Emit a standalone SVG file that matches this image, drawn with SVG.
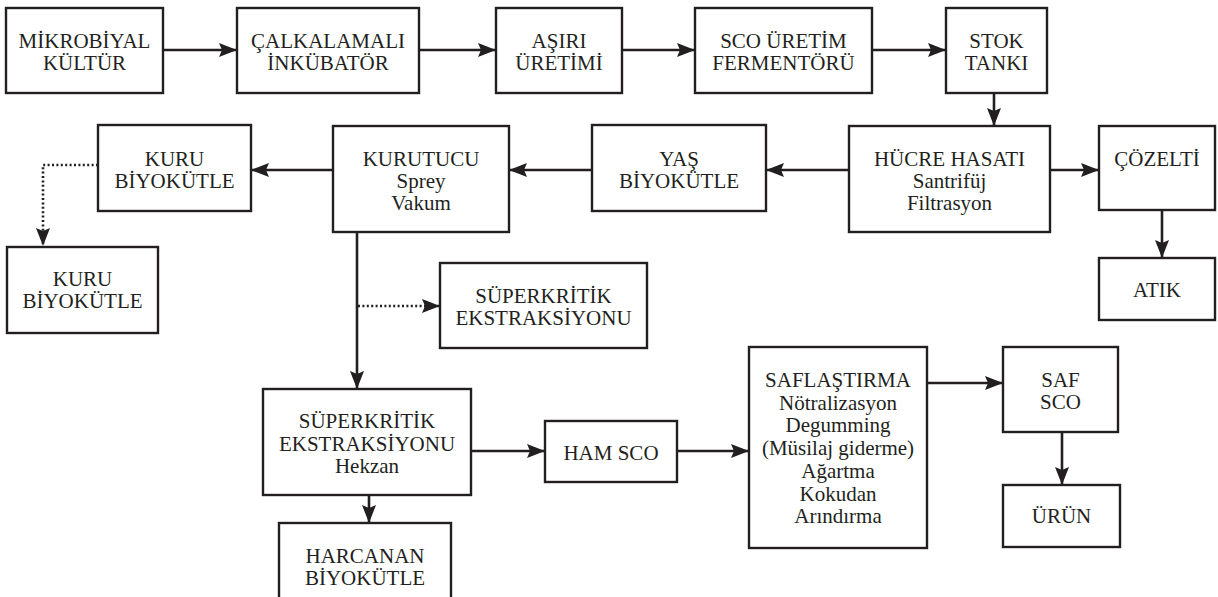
<svg xmlns="http://www.w3.org/2000/svg" width="1218" height="597" viewBox="0 0 1218 597">
<style>
.box{fill:#ffffff;stroke:#231f20;stroke-width:2.4}
.t{font-family:"Liberation Serif","Times New Roman",Times,serif;font-size:21px;fill:#231f20;text-anchor:middle}
.ln{fill:none;stroke:#231f20;stroke-width:2.6}
.dot{fill:none;stroke:#231f20;stroke-width:2.6;stroke-dasharray:2 2.4}
</style>
<defs>
<marker id="ah" markerUnits="userSpaceOnUse" markerWidth="19" markerHeight="15" refX="18" refY="7" orient="auto">
<path d="M0,0 L18,7 L0,14 L3,7 z" fill="#231f20"/>
</marker>
</defs>
<rect width="1218" height="597" fill="#ffffff"/>
<g id="connectors">
<line class="ln" x1="163" y1="50" x2="237" y2="50" marker-end="url(#ah)"/>
<line class="ln" x1="419" y1="50" x2="496" y2="50" marker-end="url(#ah)"/>
<line class="ln" x1="622" y1="50" x2="695" y2="50" marker-end="url(#ah)"/>
<line class="ln" x1="872" y1="50" x2="946" y2="50" marker-end="url(#ah)"/>
<line class="ln" x1="994" y1="93" x2="994" y2="126" marker-end="url(#ah)"/>
<line class="ln" x1="849" y1="170" x2="766" y2="170" marker-end="url(#ah)"/>
<line class="ln" x1="592" y1="170" x2="509" y2="170" marker-end="url(#ah)"/>
<line class="ln" x1="333" y1="170" x2="251" y2="170" marker-end="url(#ah)"/>
<line class="ln" x1="1050" y1="170" x2="1099" y2="170" marker-end="url(#ah)"/>
<line class="ln" x1="1162" y1="210" x2="1162" y2="258" marker-end="url(#ah)"/>
<polyline class="dot" points="98,165 43,165 43,246" marker-end="url(#ah)"/>
<line class="ln" x1="357" y1="232" x2="357" y2="389" marker-end="url(#ah)"/>
<line class="dot" x1="358" y1="306" x2="440" y2="306" marker-end="url(#ah)"/>
<line class="ln" x1="471" y1="451" x2="545" y2="451" marker-end="url(#ah)"/>
<line class="ln" x1="369" y1="495" x2="369" y2="523" marker-end="url(#ah)"/>
<line class="ln" x1="677" y1="451" x2="749" y2="451" marker-end="url(#ah)"/>
<line class="ln" x1="927" y1="383" x2="1003" y2="383" marker-end="url(#ah)"/>
<line class="ln" x1="1062" y1="432" x2="1062" y2="485" marker-end="url(#ah)"/>
</g>
<g id="mikrobiyal"><rect class="box" x="6" y="8" width="157" height="85"/><text class="t" x="84.5" y="48">MİKROBİYAL</text><text class="t" x="84.5" y="70">KÜLTÜR</text></g>
<g id="calkalamali"><rect class="box" x="237" y="8" width="182" height="85"/><text class="t" x="328" y="48">ÇALKALAMALI</text><text class="t" x="328" y="70">İNKÜBATÖR</text></g>
<g id="asiri"><rect class="box" x="496" y="8" width="126" height="85"/><text class="t" x="559" y="48">AŞIRI</text><text class="t" x="559" y="70">ÜRETİMİ</text></g>
<g id="sco-uretim"><rect class="box" x="695" y="8" width="177" height="85"/><text class="t" x="783.5" y="48">SCO ÜRETİM</text><text class="t" x="783.5" y="70">FERMENTÖRÜ</text></g>
<g id="stok"><rect class="box" x="946" y="8" width="101" height="85"/><text class="t" x="996.5" y="48">STOK</text><text class="t" x="996.5" y="70">TANKI</text></g>
<g id="hucre"><rect class="box" x="849" y="126" width="201" height="106"/><text class="t" x="949.5" y="166">HÜCRE HASATI</text><text class="t" x="949.5" y="188">Santrifüj</text><text class="t" x="949.5" y="210">Filtrasyon</text></g>
<g id="cozelti"><rect class="box" x="1099" y="126" width="116" height="84"/><text class="t" x="1157" y="166">ÇÖZELTİ</text></g>
<g id="atik"><rect class="box" x="1099" y="258" width="116" height="62"/><text class="t" x="1157" y="297">ATIK</text></g>
<g id="yas"><rect class="box" x="592" y="125" width="174" height="86"/><text class="t" x="679" y="166">YAŞ</text><text class="t" x="679" y="188">BİYOKÜTLE</text></g>
<g id="kurutucu"><rect class="box" x="333" y="126" width="176" height="106"/><text class="t" x="421" y="166">KURUTUCU</text><text class="t" x="421" y="188">Sprey</text><text class="t" x="421" y="210">Vakum</text></g>
<g id="kuru1"><rect class="box" x="98" y="125" width="153" height="86"/><text class="t" x="174.5" y="166">KURU</text><text class="t" x="174.5" y="188">BİYOKÜTLE</text></g>
<g id="kuru2"><rect class="box" x="7" y="247" width="151" height="86"/><text class="t" x="82.5" y="286">KURU</text><text class="t" x="82.5" y="308">BİYOKÜTLE</text></g>
<g id="superkritik1"><rect class="box" x="440" y="263" width="207" height="85"/><text class="t" x="543.5" y="303">SÜPERKRİTİK</text><text class="t" x="543.5" y="325">EKSTRAKSİYONU</text></g>
<g id="superkritik2"><rect class="box" x="263" y="389" width="208" height="106"/><text class="t" x="367" y="428">SÜPERKRİTİK</text><text class="t" x="367" y="451">EKSTRAKSİYONU</text><text class="t" x="367" y="473">Hekzan</text></g>
<g id="ham-sco"><rect class="box" x="545" y="421" width="132" height="61"/><text class="t" x="611" y="460">HAM SCO</text></g>
<g id="harcanan"><rect class="box" x="279" y="523" width="172" height="90"/><text class="t" x="365" y="563">HARCANAN</text><text class="t" x="365" y="585">BİYOKÜTLE</text></g>
<g id="saflastirma"><rect class="box" x="749" y="347" width="178" height="201"/>
<text class="t" x="838" y="387">SAFLAŞTIRMA</text>
<text class="t" x="838" y="409.7">Nötralizasyon</text>
<text class="t" x="838" y="432.4">Degumming</text>
<text class="t" x="838" y="455.1">(Müsilaj giderme)</text>
<text class="t" x="838" y="477.8">Ağartma</text>
<text class="t" x="838" y="500.5">Kokudan</text>
<text class="t" x="838" y="523.2">Arındırma</text></g>
<g id="saf-sco"><rect class="box" x="1003" y="347" width="115" height="85"/><text class="t" x="1060.5" y="387">SAF</text><text class="t" x="1060.5" y="409">SCO</text></g>
<g id="urun"><rect class="box" x="1003" y="485" width="117" height="62"/><text class="t" x="1061.5" y="523">ÜRÜN</text></g>
</svg>
